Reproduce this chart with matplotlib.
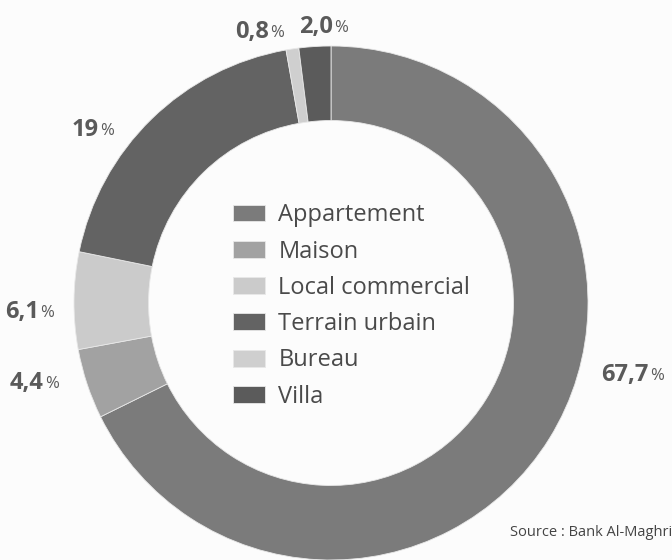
import matplotlib.pyplot as plt

categories = ["Appartement", "Maison", "Local commercial", "Terrain urbain", "Bureau", "Villa"]
shares = [67.7, 4.4, 6.1, 19.0, 0.8, 2.0]
share_labels = ["67,7", "4,4", "6,1", "19", "0,8", "2,0"]
colors = ["#7b7b7b", "#a2a2a2", "#cbcbcb", "#636363", "#cfcfcf", "#5b5b5b"]

plt.rcParams['font.family'] = ['Open Sans', 'DejaVu Sans']

fig = plt.figure(figsize=(6.72, 5.6), dpi=100)
fig.patch.set_facecolor("#fcfcfc")
ax = fig.add_axes([0, 0, 1, 1])

# donut in pixel coordinates (y up)
cx, cy, r = 331, 560 - 303, 257
wedges, _ = ax.pie(shares, colors=colors, startangle=90, counterclock=False,
                   center=(cx, cy), radius=r,
                   wedgeprops=dict(width=r * 0.29, edgecolor="#e8e8e8", linewidth=0.6))
ax.set_xlim(0, 672)
ax.set_ylim(0, 560)
ax.set_aspect("equal")
ax.axis("off")

# percentage labels (number bold, % smaller)
label_pos = [(649, 185), (44, 177), (39, 248), (99, 430), (269, 528), (333, 533)]
for (x, y), s in zip(label_pos, share_labels):
    ax.text(x, y, s, ha="right", va="center", fontsize=17, fontweight="bold",
            color="#5a5a5a")
    ax.text(x + 1, y - 1, "%", ha="left", va="center", fontsize=12,
            color="#5a5a5a")

ax.legend(wedges, categories, loc="upper left", bbox_to_anchor=(0.347, 0.637),
          frameon=False, fontsize=17, handlelength=1.36, handleheight=0.72,
          handletextpad=0.55, labelspacing=0.52, borderpad=0, borderaxespad=0,
          labelcolor="#4a4a4a")

ax.text(510, 27, "Source : Bank Al-Maghrib", fontsize=10.5, color="#444444",
        ha="left", va="center")

fig.savefig("out.png", dpi=100, facecolor=fig.get_facecolor())
